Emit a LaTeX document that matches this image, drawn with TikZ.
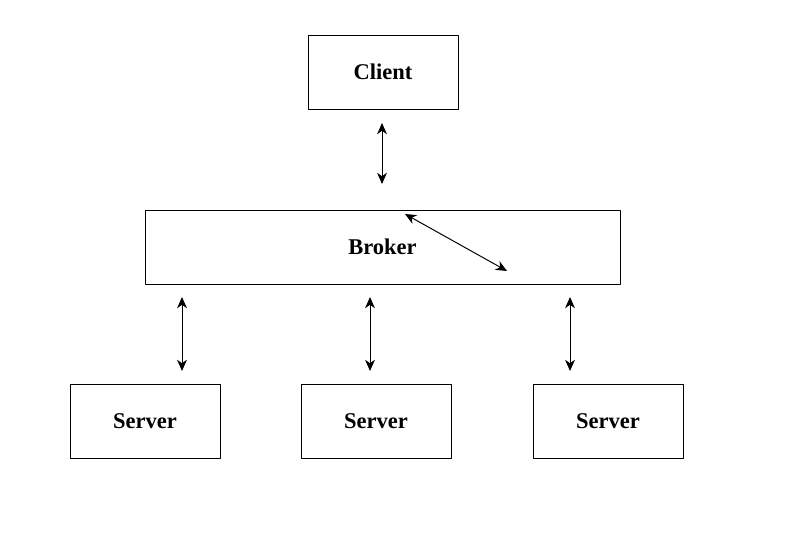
\documentclass[tikz,border=0pt]{standalone}
\usepackage{fontspec}
\setmainfont{Liberation Serif}
\usetikzlibrary{arrows.meta,positioning}

\begin{document}
\begin{tikzpicture}[
  line cap=round,
  line join=round,
  >={Stealth[length=8pt,width=7pt,inset=2.5pt]},
  component/.style={draw=black,line width=0.65pt,minimum height=1.85cm,
    font=\fontsize{16}{18}\selectfont\bfseries},
  link/.style={black,line width=0.7pt,<->}
]
\path[use as bounding box] (0,0) rectangle (20.125,13.425);

\node[component,minimum width=3.75cm] (client) at (9.575,11.625) {Client};
\node[component,minimum width=11.875cm] (broker) at (9.5625,7.25) {Broker};
\node[component,minimum width=3.75cm] (serverA) at (3.625,2.8875) {Server};
\node[component,minimum width=3.75cm] (serverB) at (9.4,2.8875) {Server};
\node[component,minimum width=3.75cm] (serverC) at (15.2,2.8875) {Server};

% connector ends
\coordinate (clientlow) at (9.55,10.35);
\coordinate (brokertop) at (9.55,8.825);
\coordinate (diagA) at (10.125,8.075);
\coordinate (diagB) at (12.675,6.65);
\coordinate (brokerlowA) at (4.55,6.0);
\coordinate (brokerlowB) at (9.25,6.0);
\coordinate (brokerlowC) at (14.25,6.0);
\coordinate (serverAtop) at (4.55,4.15);
\coordinate (serverBtop) at (9.25,4.15);
\coordinate (serverCtop) at (14.25,4.15);

\draw[link] (clientlow) -- (brokertop);
\draw[link] (diagA) -- (diagB);
\draw[link] (brokerlowA) -- (serverAtop);
\draw[link] (brokerlowB) -- (serverBtop);
\draw[link] (brokerlowC) -- (serverCtop);
\end{tikzpicture}
\end{document}
